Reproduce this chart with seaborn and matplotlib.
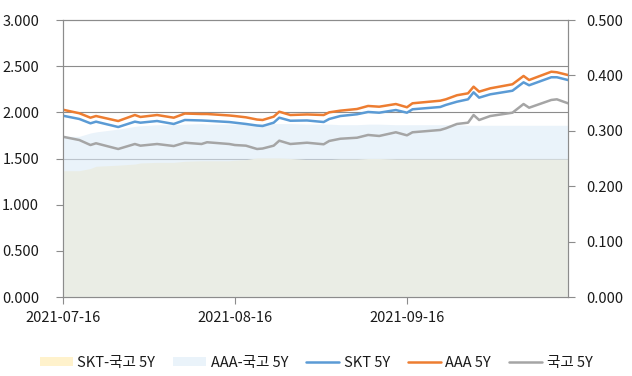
import numpy as np
import pandas as pd
import matplotlib
matplotlib.use("Agg")
import matplotlib.pyplot as plt
import matplotlib.dates as mdates
from matplotlib.ticker import FormatStrFormatter
from matplotlib.patches import Patch
from matplotlib.lines import Line2D
import seaborn as sns

# values
dates = ["2021-07-16", "2021-07-19", "2021-07-21", "2021-07-22", "2021-07-26",
         "2021-07-29", "2021-07-30", "2021-08-02", "2021-08-05", "2021-08-07",
         "2021-08-10", "2021-08-11", "2021-08-15", "2021-08-16", "2021-08-18",
         "2021-08-20", "2021-08-21", "2021-08-23", "2021-08-24", "2021-08-26",
         "2021-08-29", "2021-09-01", "2021-09-02", "2021-09-04", "2021-09-07",
         "2021-09-09", "2021-09-11", "2021-09-14", "2021-09-16", "2021-09-17",
         "2021-09-22", "2021-09-23", "2021-09-25", "2021-09-27", "2021-09-28",
         "2021-09-29", "2021-10-01", "2021-10-05", "2021-10-07", "2021-10-08",
         "2021-10-12", "2021-10-13", "2021-10-15"]

skt_5y = [1.964, 1.928, 1.881, 1.899, 1.841, 1.899, 1.888, 1.906, 1.874, 1.917,
          1.912, 1.909, 1.895, 1.888, 1.874, 1.857, 1.852, 1.888, 1.942, 1.909,
          1.912, 1.895, 1.928, 1.960, 1.979, 2.004, 1.996, 2.025, 1.996, 2.033,
          2.058, 2.080, 2.115, 2.141, 2.217, 2.159, 2.195, 2.234, 2.325, 2.293,
          2.380, 2.380, 2.350]

aaa_5y = [2.029, 1.990, 1.942, 1.960, 1.906, 1.971, 1.950, 1.971, 1.942, 1.987,
          1.982, 1.982, 1.966, 1.960, 1.946, 1.922, 1.917, 1.953, 2.007, 1.971,
          1.977, 1.971, 2.000, 2.018, 2.036, 2.069, 2.061, 2.090, 2.055, 2.098,
          2.126, 2.141, 2.185, 2.206, 2.278, 2.224, 2.260, 2.304, 2.394, 2.350,
          2.440, 2.434, 2.404]

ktb_5y = [1.736, 1.700, 1.646, 1.665, 1.603, 1.657, 1.639, 1.657, 1.635, 1.671,
          1.657, 1.676, 1.657, 1.646, 1.639, 1.603, 1.608, 1.639, 1.693, 1.657,
          1.671, 1.654, 1.690, 1.714, 1.725, 1.755, 1.744, 1.784, 1.751, 1.784,
          1.809, 1.827, 1.874, 1.888, 1.971, 1.917, 1.960, 1.996, 2.090, 2.050,
          2.134, 2.141, 2.098]

skt_spread = [0.228, 0.228, 0.232, 0.236, 0.238, 0.240, 0.242, 0.243, 0.243, 0.245,
              0.246, 0.246, 0.246, 0.247, 0.248, 0.251, 0.251, 0.251, 0.251, 0.250,
              0.248, 0.248, 0.248, 0.249, 0.249, 0.250, 0.250, 0.249, 0.249, 0.249,
              0.249, 0.249, 0.249, 0.249, 0.249, 0.249, 0.249, 0.249, 0.249, 0.249,
              0.249, 0.249, 0.249]

aaa_spread = [0.290, 0.290, 0.296, 0.298, 0.303, 0.308, 0.309, 0.311, 0.311, 0.312,
              0.313, 0.312, 0.312, 0.312, 0.312, 0.313, 0.313, 0.313, 0.313, 0.313,
              0.312, 0.312, 0.312, 0.311, 0.311, 0.312, 0.312, 0.311, 0.311, 0.311,
              0.311, 0.311, 0.311, 0.310, 0.310, 0.310, 0.310, 0.310, 0.310, 0.310,
              0.310, 0.310, 0.310]

labels = ["SKT-국고 5Y", "AAA-국고 5Y", "SKT 5Y", "AAA 5Y", "국고 5Y"]

df = pd.DataFrame({"date": pd.to_datetime(dates), "skt": skt_5y, "aaa": aaa_5y,
                   "ktb": ktb_5y, "skt_sp": skt_spread, "aaa_sp": aaa_spread})

sns.set_style("white")
plt.rcParams["font.family"] = ["Noto Sans CJK KR", "DejaVu Sans"]

grid_c = "#8c8c8c"
text_c = "#1a1a1a"
yellow = "#FFF2CC"
lightblue = "#DDEBF7"
c_skt, c_aaa, c_ktb = "#5B9BD5", "#ED7D31", "#A5A5A5"

fig = plt.figure(figsize=(6.32, 3.76), dpi=100)
# bottom axes: spreads (right scale); top axes: yields (left scale)
ax = fig.add_axes([0.0992, 0.2101, 0.7995, 0.7367])
ax2 = ax.twinx()

ax.set_yticks(np.linspace(0, 0.5, 7), minor=True)
ax.grid(which="minor", axis="y", color=grid_c, lw=0.8)
ax.set_axisbelow(True)

ax.fill_between(df["date"], 0, df["skt_sp"], color=yellow, lw=0, zorder=2)
ax.fill_between(df["date"], 0, df["aaa_sp"], color=lightblue, alpha=0.6, lw=0, zorder=3)

sns.lineplot(data=df, x="date", y="skt", ax=ax2, color=c_skt, lw=1.8, legend=False)
sns.lineplot(data=df, x="date", y="aaa", ax=ax2, color=c_aaa, lw=1.8, legend=False)
sns.lineplot(data=df, x="date", y="ktb", ax=ax2, color=c_ktb, lw=1.8, legend=False)

ax.set_xlim(pd.Timestamp("2021-07-16"), pd.Timestamp("2021-10-15"))
ax.set_xticks(pd.to_datetime(["2021-07-16", "2021-08-16", "2021-09-16"]))
ax.xaxis.set_major_formatter(mdates.DateFormatter("%Y-%m-%d"))

ax.set_ylim(0, 0.5)
ax.set_yticks(np.arange(0, 0.501, 0.1))
ax.yaxis.set_major_formatter(FormatStrFormatter("%.3f"))
ax2.set_ylim(0, 3)
ax2.set_yticks(np.arange(0, 3.01, 0.5))
ax2.yaxis.set_major_formatter(FormatStrFormatter("%.3f"))

ax.yaxis.tick_right()
ax.yaxis.set_label_position("right")
ax2.yaxis.tick_left()
ax2.yaxis.set_label_position("left")

ax.tick_params(axis="y", which="major", right=True, left=False, labelright=True,
               labelleft=False, length=5, color=grid_c, pad=8,
               labelsize=10.5, labelcolor=text_c)
ax.tick_params(axis="y", which="minor", length=0)
ax.tick_params(axis="x", bottom=True, length=5, color=grid_c, pad=5,
               labelsize=10.5, labelcolor=text_c)
ax2.tick_params(axis="y", left=True, right=False, labelleft=True, labelright=False,
                length=5, color=grid_c, pad=12, labelsize=10.5, labelcolor=text_c)

for a in (ax, ax2):
    a.set_xlabel("")
    a.set_ylabel("")
    for s in a.spines.values():
        s.set_color(grid_c)
        s.set_linewidth(0.8)

handles = [Patch(facecolor=yellow, edgecolor="none"),
           Patch(facecolor=lightblue, alpha=0.6, edgecolor="none"),
           Line2D([], [], color=c_skt, lw=1.8),
           Line2D([], [], color=c_aaa, lw=1.8),
           Line2D([], [], color=c_ktb, lw=1.8)]
fig.legend(handles, labels, loc="center", bbox_to_anchor=(0.5, 0.035), ncol=5,
           frameon=False, fontsize=10.5, handlelength=2.3, handleheight=0.55,
           handletextpad=0.3, columnspacing=1.2, labelcolor=text_c)

fig.savefig("out.png", dpi=100)
